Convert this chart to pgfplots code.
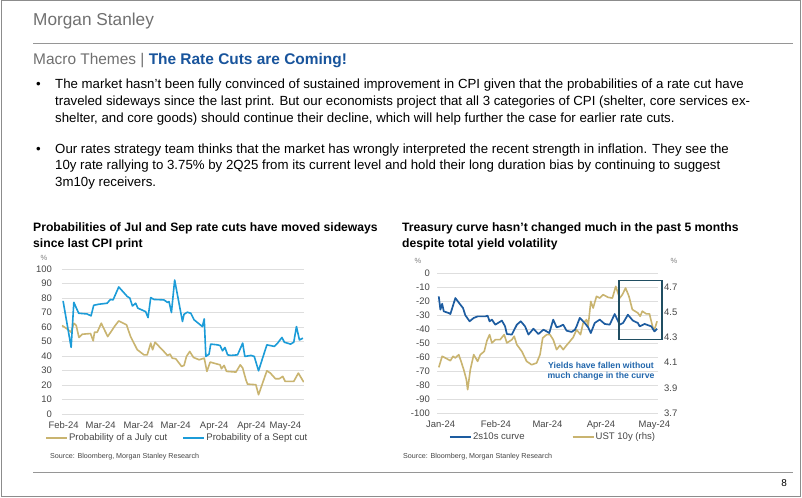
\documentclass[border=0pt]{standalone}
\usepackage{fontspec}
\setmainfont{Liberation Sans}
\usepackage{pgfplots}
\usepackage{pgfplotstable}
\pgfplotsset{compat=1.18}

\definecolor{julygold}{RGB}{201,180,112}
\definecolor{septblue}{RGB}{28,156,216}
\definecolor{curveblue}{RGB}{29,92,160}
\definecolor{boxteal}{RGB}{32,78,98}
\definecolor{annblue}{RGB}{33,102,172}
\definecolor{titleblue}{RGB}{24,84,156}
\definecolor{msgray}{RGB}{112,112,112}
\definecolor{tickgray}{RGB}{70,70,70}
\definecolor{gridgray}{RGB}{222,222,222}
\definecolor{framegray}{RGB}{140,140,140}
\definecolor{rulegray}{RGB}{150,150,150}

\pgfplotstableread[row sep=\\]{
x y\\
0.4 78\\ 3.4 46\\ 4.4 77\\ 6.2 69.5\\ 9.3 69\\ 10.8 67.7\\ 11.8 75\\ 13.7 75.7\\
16.8 76.4\\ 18 79\\ 19 78.7\\ 21.1 87.6\\ 24.3 81\\ 25.2 80\\ 26.2 74.5\\ 27.4 76.4\\
28.2 73\\ 31.1 70.6\\ 32 66.5\\ 33 80.3\\ 34.2 79\\ 37.9 78.7\\ 39.2 77\\ 39.8 77.5\\
40.7 70\\ 41.9 92.4\\ 44.8 63.8\\ 45.4 68.8\\ 46.6 70.2\\ 47.9 69.5\\ 49.1 65\\ 52.2 60.3\\
52.9 65.6\\ 53.5 39.7\\ 54.7 41.3\\ 55.3 48.2\\ 57.8 47.7\\ 58.8 47.2\\ 59.7 43.6\\ 60.6 45.9\\
61.6 40.8\\ 62.8 40.4\\ 65.3 40.8\\ 67.2 48.9\\ 68 39.7\\ 70.3 40.4\\ 71.5 39.7\\ 73.1 29.8\\
74.6 38.5\\ 76.2 47.7\\ 79 46.6\\ 80.2 48.9\\ 81.8 52.8\\ 82.7 49.5\\ 85 48.2\\ 86.2 49.5\\
87.2 60.3\\ 88.3 51.1\\ 89.6 52.3\\
}\septdata

\pgfplotstableread[row sep=\\]{
x y\\
0 61\\ 1.9 58.7\\ 3.4 56.4\\ 4.4 62.6\\ 5.3 61\\ 6.3 52.8\\ 7.5 55\\ 10.6 55.5\\
11.6 50.5\\ 12.1 56.4\\ 13.1 56.4\\ 14.6 62.6\\ 17 53.4\\ 19.7 60.8\\ 21.1 64.2\\ 24 61.5\\
25.5 53.4\\ 28 44.3\\ 30.5 40.8\\ 31.7 40.8\\ 33 48.9\\ 33.7 44.3\\ 34.6 49.5\\ 37.9 43.1\\
39.2 40.4\\ 40.2 41.3\\ 41 38.5\\ 42.3 38.1\\ 44.5 32.8\\ 45.4 33.5\\ 46.3 39.7\\ 47.5 43.1\\
48.9 39\\ 51 37.4\\ 52.2 38.1\\ 52.9 38.5\\ 53.9 29.4\\ 55.1 35.8\\ 57.8 34.4\\ 58.8 33.9\\
59.3 31.2\\ 60.3 33.5\\ 61.2 29.4\\ 64.7 28.9\\ 66.3 33.9\\ 67.2 31.7\\ 68.4 23.6\\ 69 20.6\\
72.1 20.2\\ 73.1 13.3\\ 74.6 21.3\\ 76.2 29.8\\ 77.5 28.2\\ 79.4 24.3\\ 80.8 24.3\\ 82.1 25.9\\
83 22.5\\ 86.2 22.5\\ 87.9 28.2\\ 89.9 22\\
}\julydata

\pgfplotstableread[row sep=\\]{
x y\\
0 -16.7\\ 0.9 -26.2\\ 1.9 -22\\ 2.8 -27.4\\ 5.6 -28.6\\ 6.5 -29.3\\ 9.3 -17.9\\ 12.1 -22.6\\
13.6 -25\\ 14.9 -30.2\\ 17.3 -34.5\\ 19.6 -32.1\\ 21.8 -31\\ 26.1 -31\\ 27.4 -30.5\\ 28.5 -34.5\\
29.8 -33.3\\ 31.7 -36.9\\ 35.4 -34\\ 37.2 -38.1\\ 38.2 -43.6\\ 41 -44\\ 43.8 -36.9\\ 46 -34.5\\
48.4 -38.1\\ 50.3 -44\\ 53.1 -39.8\\ 55.9 -43.6\\ 58.7 -40.5\\ 60.5 -41.7\\ 62 -42.9\\ 64.2 -33.3\\
66.1 -38.8\\ 68 -38.1\\ 69.8 -36.9\\ 71.7 -41.2\\ 74.5 -42.1\\ 76.4 -40.5\\ 77.3 -38.1\\ 79.1 -32.1\\
81.9 -35.7\\ 83.8 -38.8\\ 85.3 -42.9\\ 87.5 -35.7\\ 90.3 -33.3\\ 93.1 -36.4\\ 95.9 -36.9\\ 98.7 -29.3\\
101.5 -36.9\\ 103.4 -35.7\\ 106.1 -29.8\\ 108.9 -34\\ 111.7 -35.7\\ 112.7 -38.1\\ 115.5 -36.4\\ 119.2 -38.1\\
121 -41.7\\ 122.5 -39.8\\
}\curvedata

\pgfplotstableread[row sep=\\]{
x y\\
0 4.062\\ 1.9 4.150\\ 3.7 4.137\\ 6.5 4.115\\ 8 4.150\\ 9.3 4.137\\ 11.2 4.163\\ 12.5 4.110\\
14 4.044\\ 15.5 3.965\\ 16.2 3.885\\ 17.7 4.044\\ 19.6 4.163\\ 21.8 4.110\\ 23.3 4.163\\ 25.5 4.189\\
27 4.274\\ 28.5 4.322\\ 29.8 4.256\\ 31.7 4.282\\ 34.4 4.282\\ 36.7 4.322\\ 38.2 4.256\\ 41 4.282\\
42.3 4.309\\ 43.8 4.242\\ 46.6 4.189\\ 49.3 4.110\\ 52.1 4.083\\ 54.9 4.097\\ 56.8 4.163\\ 58.3 4.295\\
60.5 4.322\\ 62.4 4.322\\ 64.2 4.282\\ 66.1 4.203\\ 68 4.237\\ 69.8 4.203\\ 71.7 4.237\\ 73.6 4.269\\
75.4 4.300\\ 77.3 4.361\\ 79.5 4.322\\ 81 4.414\\ 82.9 4.441\\ 83.8 4.388\\ 85.3 4.586\\ 86.6 4.533\\
88.5 4.626\\ 90.3 4.612\\ 92.2 4.639\\ 95 4.618\\ 97.4 4.612\\ 99.3 4.705\\ 101.5 4.612\\ 103 4.639\\
104.8 4.692\\ 106.7 4.626\\ 108.6 4.521\\ 111.7 4.494\\ 113 4.468\\ 114.2 4.508\\ 116.4 4.487\\ 118.2 4.487\\
119.7 4.401\\ 120.7 4.353\\ 121.6 4.388\\ 122.5 4.428\\
}\ustdata

\pgfplotsset{
  msaxis/.style={
    scale only axis, anchor=south west,
    axis line style={draw=none}, tick style={draw=none},
    ticklabel style={font=\fontsize{9.5}{11}\selectfont, text=tickgray, inner sep=0pt},
    /pgf/number format/assume math mode=true,
    grid style={gridgray, line width=0.7bp},
    legend image code/.code={\draw[##1] (0bp,0bp) -- (21bp,0bp);},
  },
}

\begin{document}
\begin{tikzpicture}
\useasboundingbox (0,0) rectangle (802bp,498bp);
\fill[white] (0,0) rectangle (802bp,498bp);

\begin{scope}[x=1bp,y=-1bp,shift={(0,498bp)}]
  \draw[framegray, line width=1bp] (1,1) rectangle (800.5,497);
  \node[anchor=base west, inner sep=0, text=msgray, font=\fontsize{17.3}{20}\selectfont] at (33,26) {Morgan Stanley};
  \draw[rulegray, line width=0.8bp] (33,43.5) -- (793,43.5);
  \node[anchor=base west, inner sep=0, font=\fontsize{15.5}{18}\selectfont] at (33,65)
    {\textcolor{msgray}{Macro Themes |} \textcolor{titleblue}{\bfseries The Rate Cuts are Coming!}};
  \begin{scope}[every node/.style={anchor=base west, inner sep=0, font=\fontsize{13.3}{16}\selectfont}]
    \node at (36,89) {•};
    \node at (55,89) {The market hasn’t been fully convinced of sustained improvement in CPI given that the probabilities of a rate cut have};
    \node at (55,105.7) {traveled sideways since the last print. But our economists project that all 3 categories of CPI (shelter, core services ex-};
    \node at (55,122.3) {shelter, and core goods) should continue their decline, which will help further the case for earlier rate cuts.};
    \node at (36,153.3) {•};
    \node at (55,153.3) {Our rates strategy team thinks that the market has wrongly interpreted the recent strength in inflation. They see the};
    \node at (55,170) {10y rate rallying to 3.75\% by 2Q25 from its current level and hold their long duration bias by continuing to suggest};
    \node at (55,186.3) {3m10y receivers.};
  \end{scope}
  \begin{scope}[every node/.style={anchor=base west, inner sep=0, font=\bfseries\fontsize{12.2}{14}\selectfont}]
    \node at (33,232) {Probabilities of Jul and Sep rate cuts have moved sideways};
    \node at (33,247.5) {since last CPI print};
    \node at (402,232) {Treasury curve hasn’t changed much in the past 5 months};
    \node at (402,247.5) {despite total yield volatility};
  \end{scope}
  \begin{scope}[every node/.style={inner sep=0, text=gray, font=\fontsize{7.5}{9}\selectfont}]
    \node at (44,257.5) {\%};
    \node at (418,260.5) {\%};
    \node at (674,260.5) {\%};
  \end{scope}
  \begin{scope}[every node/.style={anchor=base west, inner sep=0, text=tickgray, font=\fontsize{7.2}{8}\selectfont}]
    \node at (50,458.5) {Source: Bloomberg, Morgan Stanley Research};
    \node at (403,458.5) {Source: Bloomberg, Morgan Stanley Research};
  \end{scope}
  \draw[rulegray, line width=0.8bp] (33,472) -- (793,472);
  \node[anchor=base east, inner sep=0, font=\fontsize{10}{12}\selectfont] at (787,487) {8};
\end{scope}

% ---------------- Left chart ----------------
\begin{axis}[msaxis,
  at={(62bp,84bp)}, width=242bp, height=145bp,
  xmin=0, xmax=90, ymin=0, ymax=100,
  ytick={0,10,...,100}, ymajorgrids,
  xtick={0.6,14.4,28.5,42.3,56.6,70.5,83.1},
  xticklabels={Feb-24,Mar-24,Mar-24,Mar-24,Apr-24,Apr-24,May-24},
  yticklabel style={anchor=east, xshift=-10bp},
  xticklabel style={anchor=base, yshift=-14.5bp},
  legend style={at={(axis description cs:-0.07,-0.166)}, anchor=west, draw=none, fill=none,
    inner sep=0pt, font=\fontsize{9.6}{11}\selectfont, text=tickgray,
    nodes={inner sep=1.2bp}, /tikz/every even column/.append style={column sep=14bp}},
  legend columns=2,
]
\addplot[julygold, line width=1.6bp, line join=round] table[x=x,y=y] {\julydata};
\addlegendentry{Probability of a July cut}
\addplot[septblue, line width=1.6bp, line join=round] table[x=x,y=y] {\septdata};
\addlegendentry{Probability of a Sept cut}
\end{axis}

% ---------------- Right chart: grid and left labels ----------------
\begin{axis}[msaxis,
  at={(437bp,85bp)}, width=221bp, height=140bp,
  xmin=-1, xmax=123, ymin=-100, ymax=0,
  ytick={-100,-90,...,0}, ymajorgrids,
  xtick={1,32,61,91,121},
  xticklabels={Jan-24,Feb-24,Mar-24,Apr-24,May-24},
  yticklabel style={anchor=east, xshift=-7bp},
  xticklabel style={anchor=base, yshift=-14.5bp},
]
\addplot[draw=none] coordinates {(0,-50)};
\end{axis}

% ---------------- Right chart: UST 10y (rhs) ----------------
\begin{axis}[msaxis,
  at={(437bp,85bp)}, width=221bp, height=140bp,
  xmin=-1, xmax=123, ymin=3.7, ymax=4.81111,
  ytick={3.7,3.9,4.1,4.3,4.5,4.7}, xtick=\empty,
  yticklabel pos=right,
  yticklabel style={anchor=west, xshift=6bp, /pgf/number format/.cd, fixed, fixed zerofill, precision=1},
]
\addplot[julygold, line width=1.6bp, line join=round] table[x=x,y=y] {\ustdata};
\end{axis}

% ---------------- Right chart: 2s10s curve ----------------
\begin{axis}[msaxis,
  at={(437bp,85bp)}, width=221bp, height=140bp,
  xmin=-1, xmax=123, ymin=-100, ymax=0,
  xtick=\empty, ytick=\empty, clip=false,
  legend style={at={(axis description cs:0.054,-0.171)}, anchor=west, draw=none, fill=none,
    inner sep=0pt, font=\fontsize{9.6}{11}\selectfont, text=tickgray,
    nodes={inner sep=1.2bp}, /tikz/every even column/.append style={column sep=46bp}},
  legend columns=2,
]
\addplot[curveblue, line width=1.7bp, line join=round] table[x=x,y=y] {\curvedata};
\addlegendentry{2s10s curve}
\addlegendimage{julygold, line width=1.6bp}
\addlegendentry{UST 10y (rhs)}
\draw[boxteal, line width=1.5bp] (axis cs:101.1,-5.2) rectangle (axis cs:125.3,-47.6);
\node[font=\bfseries\fontsize{8.7}{9.8}\selectfont, text=annblue, align=center, inner sep=0]
  at (axis cs:91,-70) {Yields have fallen without\\much change in the curve};
\end{axis}
\end{tikzpicture}
\end{document}
